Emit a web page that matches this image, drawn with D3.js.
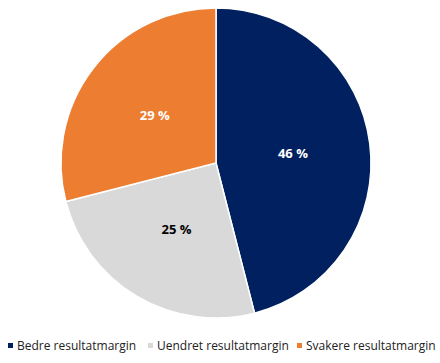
<!DOCTYPE html>
<html>
<head>
<meta charset="utf-8">
<script src="https://cdn.jsdelivr.net/npm/d3@7"></script>
<style>
  body { margin: 0; background: #fff; }
  svg { display: block; font-family: "Open Sans", "DejaVu Sans", sans-serif; }
</style>
</head>
<body>
<svg id="chart"></svg>
<script>
// data
const categories = ["Bedre resultatmargin", "Uendret resultatmargin", "Svakere resultatmargin"];
const values = [46, 25, 29];
const colors = ["#002060", "#D9D9D9", "#ED7D31"];
const labelColors = ["#ffffff", "#000000", "#ffffff"];

const width = 440, height = 363;
const cx = 216, cy = 163, radius = 155;

const svg = d3.select("#chart").attr("width", width).attr("height", height);

// pie, clockwise from top, no sorting
let pie = d3.pie().sort(null).value(d => d.value);
let arcs = pie(categories.map((c, i) => ({ name: c, value: values[i], i: i })));
let arc = d3.arc().innerRadius(0).outerRadius(radius);
let labelArc = d3.arc().innerRadius(radius * 0.5).outerRadius(radius * 0.5);

let g = svg.append("g").attr("transform", `translate(${cx}, ${cy})`);

g.selectAll("path.slice")
    .data(arcs)
    .enter()
    .append("path")
    .attr("class", "slice")
    .attr("d", arc)
    .attr("fill", d => colors[d.data.i])
    .attr("stroke", "#fff")
    .attr("stroke-width", 1.5);

// slice labels
g.selectAll("text.lbl")
    .data(arcs)
    .enter()
    .append("text")
    .attr("class", "lbl")
    .attr("transform", d => `translate(${labelArc.centroid(d)})`)
    .attr("dy", "0.35em")
    .attr("text-anchor", "middle")
    .style("font-size", "13px")
    .style("font-weight", "bold")
    .attr("fill", d => labelColors[d.data.i])
    .text(d => d.data.value + " %");

// legend
let legendX = [8, 148, 297];
let legend = svg.selectAll(".legend")
    .data(categories)
    .enter()
    .append("g")
    .attr("class", "legend")
    .attr("transform", (d, i) => `translate(${legendX[i]}, 346)`);

legend.append("rect")
    .attr("x", 0)
    .attr("y", -3)
    .attr("width", 5)
    .attr("height", 5)
    .attr("fill", (d, i) => colors[i]);

legend.append("text")
    .attr("x", 9)
    .attr("dy", "0.35em")
    .style("font-size", "12px")
    .attr("fill", "#222")
    .text(d => d);
</script>
</body>
</html>
